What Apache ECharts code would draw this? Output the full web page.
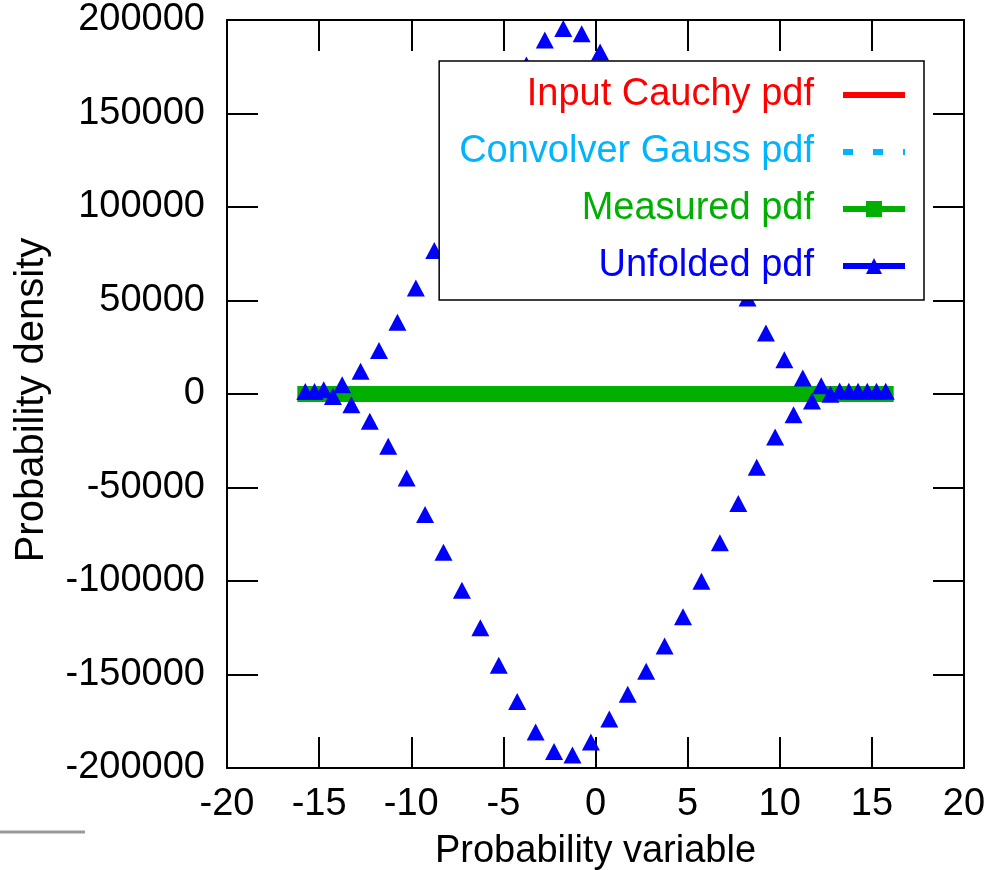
<!DOCTYPE html>
<html><head><meta charset="utf-8">
<script src="https://cdn.jsdelivr.net/npm/echarts@6/dist/echarts.min.js"></script>
<style>html,body{margin:0;padding:0;background:#fff}#c{width:990px;height:870px}</style>
</head><body><div id="c"></div>
<script>
// Bin centres (probability variable)
const xBins = [-15.75,-15.25,-14.75,-14.25,-13.75,-13.25,-12.75,-12.25,-11.75,-11.25,-10.75,-10.25,-9.75,-9.25,-8.75,-8.25,
  -7.75,-7.25,-6.75,-6.25,-5.75,-5.25,-4.75,-4.25,-3.75,-3.25,-2.75,-2.25,-1.75,-1.25,-0.75,-0.25,
  0.25,0.75,1.25,1.75,2.25,2.75,3.25,3.75,4.25,4.75,5.25,5.75,6.25,6.75,7.25,7.75,
  8.25,8.75,9.25,9.75,10.25,10.75,11.25,11.75,12.25,12.75,13.25,13.75,14.25,14.75,15.25,15.75];
// Input Cauchy pdf (indistinguishable from 0 at this scale)
const inputCauchy = [0,0,0,0,0,0,0,0,0,0,0,0,0,0,0,0,0,0,0,0,0,0,0,0,0,0,0,0,0,0,0,0,
  0,0,0,0,0,0,0,0,0,0,0,0,0,0,0,0,0,0,0,0,0,0,0,0,0,0,0,0,0,0,0,0];
// Convolver Gauss pdf (indistinguishable from 0 at this scale)
const convolverGauss = [0,0,0,0,0,0,0,0,0,0,0,0,0,0,0,0,0,0,0,0,0,0,0,0,0,0,0,0,0,0,0,0,
  0,0,0,0,0,0,0,0,0,0,0,0,0,0,0,0,0,0,0,0,0,0,0,0,0,0,0,0,0,0,0,0];
// Measured pdf (indistinguishable from 0 at this scale)
const measured = [0,0,0,0,0,0,0,0,0,0,0,0,0,0,0,0,0,0,0,0,0,0,0,0,0,0,0,0,0,0,0,0,
  0,0,0,0,0,0,0,0,0,0,0,0,0,0,0,0,0,0,0,0,0,0,0,0,0,0,0,0,0,0,0,0];
// Unfolded pdf
const unfolded = [1400,1400,2300,-1300,5000,-5700,12100,-14600,23300,-28000,38400,-44900,56700,-64500,76700,-84600,
  95000,-104900,115000,-125000,135000,-145100,155000,-164500,175900,-180800,189300,-191200,195400,-193100,192700,-186100,
  182900,-173800,167000,-160600,154000,-148200,141000,-134800,127000,-119100,110000,-100100,90000,-79600,69000,-58600,
  51400,-39200,32600,-23000,18300,-11100,8500,-3800,4400,-200,1600,1500,1500,1500,1500,1500];

const seriesNames = ['Input Cauchy pdf','Convolver Gauss pdf','Measured pdf','Unfolded pdf'];
const seriesColors = ['#ff0000','#00b4ff','#00b000','#0000ff'];

const FONT = '"Liberation Sans", Arial, Helvetica, sans-serif';
const pairs = arr => xBins.map((x, i) => [x, arr[i]]);

const chart = echarts.init(document.getElementById('c'), null, {renderer: 'canvas'});
const axisLine = {show: true, onZero: false, lineStyle: {color: '#000', width: 2}};
const axisTick = {show: true, inside: true, length: 31, lineStyle: {color: '#000', width: 2}};

chart.setOption({
  animation: false,
  backgroundColor: '#fff',
  grid: {left: 227, right: 26, top: 20, bottom: 102, containLabel: false, outerBoundsMode: 'none'},
  xAxis: [
    {type: 'value', min: -20, max: 20, interval: 5, position: 'bottom',
     axisLine, axisTick, splitLine: {show: false},
     axisLabel: {color: '#000', fontSize: 38, fontFamily: FONT, margin: 18},
     name: 'Probability variable', nameLocation: 'middle', nameGap: 65,
     nameTextStyle: {color: '#000', fontSize: 38, fontFamily: FONT}},
    {type: 'value', min: -20, max: 20, interval: 5, position: 'top',
     axisLine, axisTick, splitLine: {show: false}, axisLabel: {show: false}}
  ],
  yAxis: [
    {type: 'value', min: -200000, max: 200000, interval: 50000, position: 'left',
     axisLine, axisTick, splitLine: {show: false},
     axisLabel: {color: '#000', fontSize: 38, fontFamily: FONT, margin: 22, padding: [4, 0, 0, 0],
                 formatter: v => String(v)},
     name: 'Probability density', nameLocation: 'middle', nameGap: 175, nameRotate: 90,
     nameTextStyle: {color: '#000', fontSize: 40, fontFamily: FONT, padding: [0, 12, 0, 0]}},
    {type: 'value', min: -200000, max: 200000, interval: 50000, position: 'right',
     axisLine, axisTick, splitLine: {show: false}, axisLabel: {show: false}}
  ],
  legend: {
    orient: 'vertical', right: 66, top: 61, align: 'right',
    itemWidth: 62, itemHeight: 20, itemGap: 19,
    padding: [15, 16, 15, 20],
    backgroundColor: '#fff', borderColor: '#000', borderWidth: 1.5, borderRadius: 0,
    selectedMode: false, z: 20,
    textStyle: {fontSize: 38, fontFamily: FONT, lineHeight: 38, padding: [0, 24, 0, 0]},
    data: [
      {name: seriesNames[0], textStyle: {color: seriesColors[0]}, itemStyle: {opacity: 0},
       lineStyle: {width: 6, color: seriesColors[0], opacity: 1, type: 'solid'}},
      {name: seriesNames[1], textStyle: {color: seriesColors[1]}, itemStyle: {opacity: 0},
       lineStyle: {width: 6, color: seriesColors[1], opacity: 1, type: [10, 20]}},
      {name: seriesNames[2], textStyle: {color: seriesColors[2]},
       itemStyle: {color: seriesColors[2], opacity: 1},
       lineStyle: {width: 6, color: seriesColors[2], opacity: 1, type: 'solid'}},
      {name: seriesNames[3], textStyle: {color: seriesColors[3]},
       itemStyle: {color: seriesColors[3], opacity: 1},
       lineStyle: {width: 6, color: seriesColors[3], opacity: 1, type: 'solid'}}
    ]
  },
  graphic: [
    {type: 'line', shape: {x1: 0, y1: 832, x2: 85, y2: 832}, style: {stroke: '#999', lineWidth: 3}}
  ],
  series: [
    {name: seriesNames[0], type: 'line', data: pairs(inputCauchy), symbol: 'none', z: 2,
     lineStyle: {color: seriesColors[0], width: 6}, itemStyle: {color: seriesColors[0]}},
    {name: seriesNames[1], type: 'line', data: pairs(convolverGauss), symbol: 'none', z: 3,
     lineStyle: {color: seriesColors[1], width: 6, type: [10, 20]}, itemStyle: {color: seriesColors[1]}},
    {name: seriesNames[2], type: 'line', data: pairs(measured), symbol: 'rect', symbolSize: 16, z: 4,
     lineStyle: {color: seriesColors[2], width: 6}, itemStyle: {color: seriesColors[2]}},
    {name: seriesNames[3], type: 'line', data: pairs(unfolded), symbol: 'triangle', symbolSize: [18, 17], z: 5,
     lineStyle: {color: seriesColors[3], width: 0, opacity: 0}, itemStyle: {color: seriesColors[3]}}
  ]
});
</script></body></html>
